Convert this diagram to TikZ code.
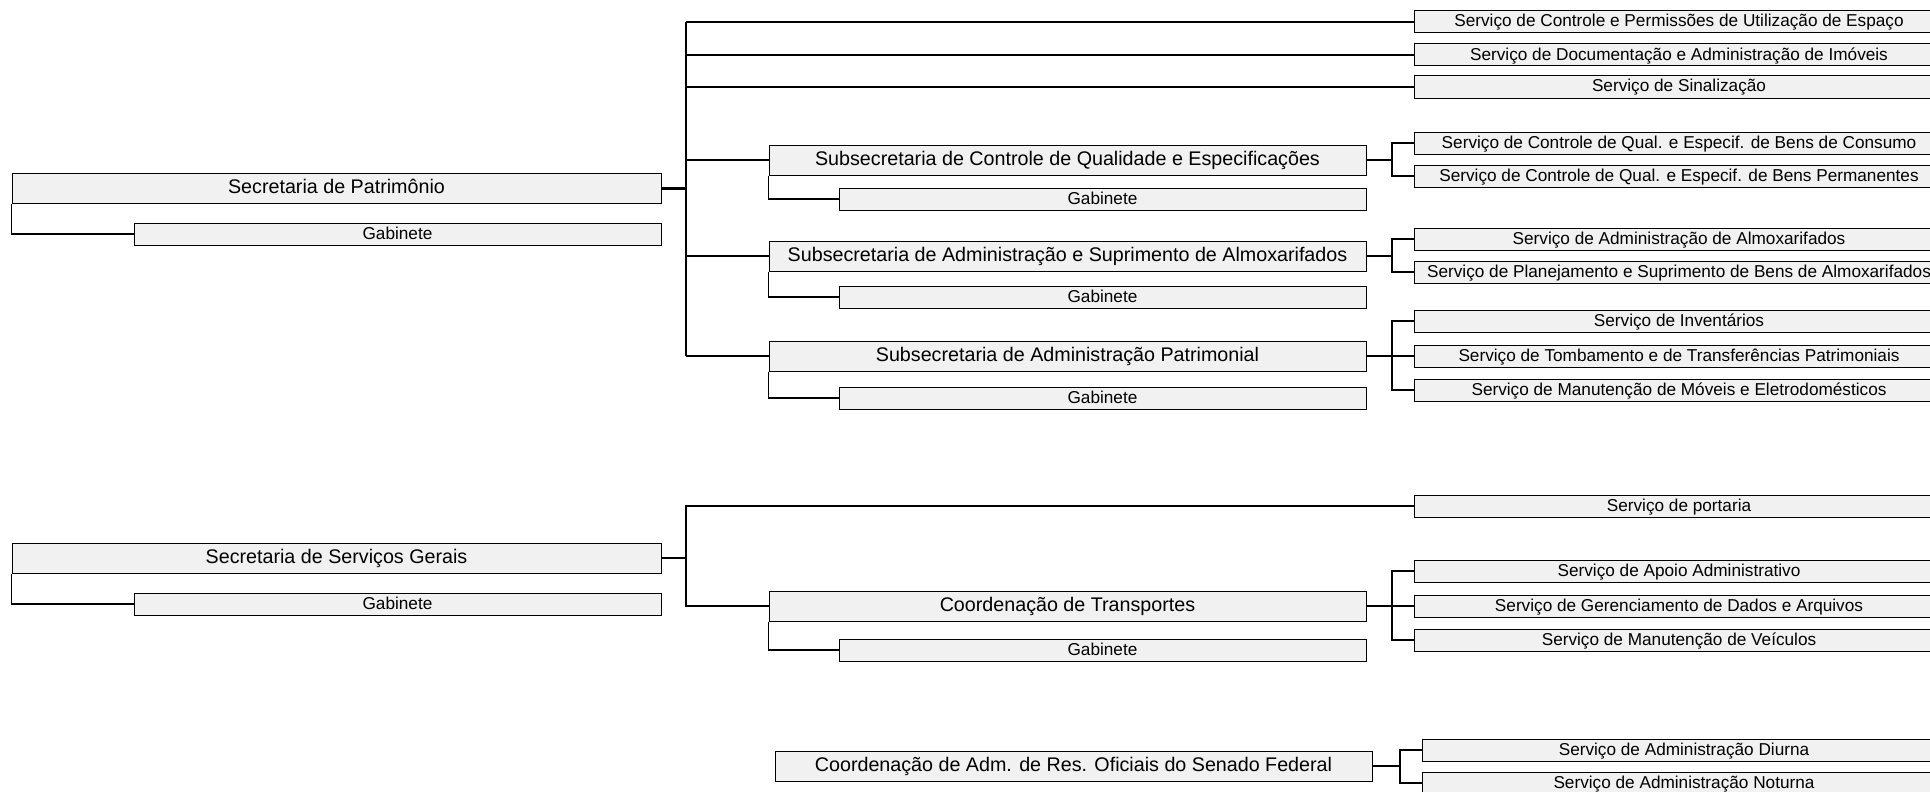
\documentclass[tikz,border=0pt]{standalone}
\usepackage{fontspec}
\setmainfont{Liberation Sans}
\definecolor{boxfill}{RGB}{241,241,241}
\begin{document}
\begin{tikzpicture}[x=1pt,y=-1pt,
  boxbase/.style={draw=black, line width=1pt, fill=boxfill, inner sep=0pt, anchor=center, text height=1.0em, text depth=0pt},
  big/.style={boxbase, minimum height=30pt, font=\fontsize{19.7}{22}\selectfont},
  small/.style={boxbase, minimum height=22pt, font=\fontsize{17.2}{20}\selectfont},
  conn/.style={line width=1.6pt},
  stub/.style={line width=2.6pt}]
\useasboundingbox (0,0) rectangle (1930,792);

% ---- Secretaria de Patrimonio ----
\node[big, minimum width=649pt] (SP) at (336.5,188.5) {Secretaria de Patrimônio};
\node[small, minimum width=527pt] (SPg) at (397.5,234) {Gabinete};

\node[small, minimum width=530pt] (s1) at (1679,22) {Serviço de Controle e Permissões de Utilização de Espaço};
\node[small, minimum width=530pt] (s2) at (1679,55) {Serviço de Documentação e Administração de Imóveis};
\node[small, minimum width=530pt] (s3) at (1679,87) {Serviço de Sinalização};

\node[big, minimum width=597pt] (SCQE) at (1067.5,160) {Subsecretaria de Controle de Qualidade e Especificações};
\node[small, minimum width=527pt] (SCQEg) at (1102.5,199) {Gabinete};
\node[small, minimum width=530pt] (c1) at (1679,143) {Serviço de Controle de Qual. e Especif. de Bens de Consumo};
\node[small, minimum width=530pt] (c2) at (1679,176) {Serviço de Controle de Qual. e Especif. de Bens Permanentes};

\node[big, minimum width=597pt] (SASA) at (1067.5,256) {Subsecretaria de Administração e Suprimento de Almoxarifados};
\node[small, minimum width=527pt] (SASAg) at (1102.5,297) {Gabinete};
\node[small, minimum width=530pt] (a1) at (1679,239) {Serviço de Administração de Almoxarifados};
\node[small, minimum width=530pt] (a2) at (1679,272) {Serviço de Planejamento e Suprimento de Bens de Almoxarifados};

\node[big, minimum width=597pt] (SAP) at (1067.5,356) {Subsecretaria de Administração Patrimonial};
\node[small, minimum width=527pt] (SAPg) at (1102.5,398) {Gabinete};
\node[small, minimum width=530pt] (p1) at (1679,321) {Serviço de Inventários};
\node[small, minimum width=530pt] (p2) at (1679,356) {Serviço de Tombamento e de Transferências Patrimoniais};
\node[small, minimum width=530pt] (p3) at (1679,390) {Serviço de Manutenção de Móveis e Eletrodomésticos};

% ---- Secretaria de Servicos Gerais ----
\node[big, minimum width=649pt] (SSG) at (336.5,558) {Secretaria de Serviços Gerais};
\node[small, minimum width=527pt] (SSGg) at (397.5,604) {Gabinete};
\node[small, minimum width=530pt] (port) at (1679,506) {Serviço de portaria};

\node[big, minimum width=597pt] (CT) at (1067.5,606) {Coordenação de Transportes};
\node[small, minimum width=527pt] (CTg) at (1102.5,650) {Gabinete};
\node[small, minimum width=530pt] (t1) at (1679,571) {Serviço de Apoio Administrativo};
\node[small, minimum width=530pt] (t2) at (1679,606) {Serviço de Gerenciamento de Dados e Arquivos};
\node[small, minimum width=530pt] (t3) at (1679,640) {Serviço de Manutenção de Veículos};

% ---- Coordenacao de Adm. de Res. Oficiais ----
\node[big, minimum width=597pt] (CA) at (1073.5,766) {Coordenação de Adm. de Res. Oficiais do Senado Federal};
\node[small, minimum width=524pt] (r1) at (1684,750) {Serviço de Administração Diurna};
\node[small, minimum width=524pt] (r2) at (1684,783) {Serviço de Administração Noturna};

% ---- trunk coordinates ----
\coordinate (tr) at (686,0);
\coordinate (br) at (1392,0);
\coordinate (br2) at (1400,0);

% ---- connectors: Secretaria de Patrimonio ----
\draw[conn] (SP.south west) |- (SPg.west);
\draw[stub] (SP.east) -- (tr |- SP.east);
\draw[conn] (tr |- s1.west) -- (tr |- SAP.west);
\draw[conn] (tr |- s1.west) -- (s1.west);
\draw[conn] (tr |- s2.west) -- (s2.west);
\draw[conn] (tr |- s3.west) -- (s3.west);
\draw[conn] (tr |- SCQE.west) -- (SCQE.west);
\draw[conn] (tr |- SASA.west) -- (SASA.west);
\draw[conn] (tr |- SAP.west) -- (SAP.west);

\draw[conn] (SCQE.south west) |- (SCQEg.west);
\draw[conn] (SASA.south west) |- (SASAg.west);
\draw[conn] (SAP.south west) |- (SAPg.west);

\draw[stub] (SCQE.east) -- (br |- SCQE.east);
\draw[conn] (c1.west) -| (br |- c2.west) -- (c2.west);
\draw[stub] (SASA.east) -- (br |- SASA.east);
\draw[conn] (a1.west) -| (br |- a2.west) -- (a2.west);
\draw[stub] (SAP.east) -- (br |- SAP.east);
\draw[conn] (p1.west) -| (br |- p3.west) -- (p3.west);
\draw[conn] (br |- p2.west) -- (p2.west);

% ---- connectors: Secretaria de Servicos Gerais ----
\draw[conn] (SSG.south west) |- (SSGg.west);
\draw[stub] (SSG.east) -- (tr |- SSG.east);
\draw[conn] (port.west) -| (tr |- CT.west) -- (CT.west);
\draw[conn] (CT.south west) |- (CTg.west);
\draw[stub] (CT.east) -- (br |- CT.east);
\draw[conn] (t1.west) -| (br |- t3.west) -- (t3.west);
\draw[conn] (br |- t2.west) -- (t2.west);

% ---- connectors: Coordenacao ----
\draw[stub] (CA.east) -- (br2 |- CA.east);
\draw[conn] (r1.west) -| (br2 |- r2.west) -- (r2.west);
\end{tikzpicture}
\end{document}
